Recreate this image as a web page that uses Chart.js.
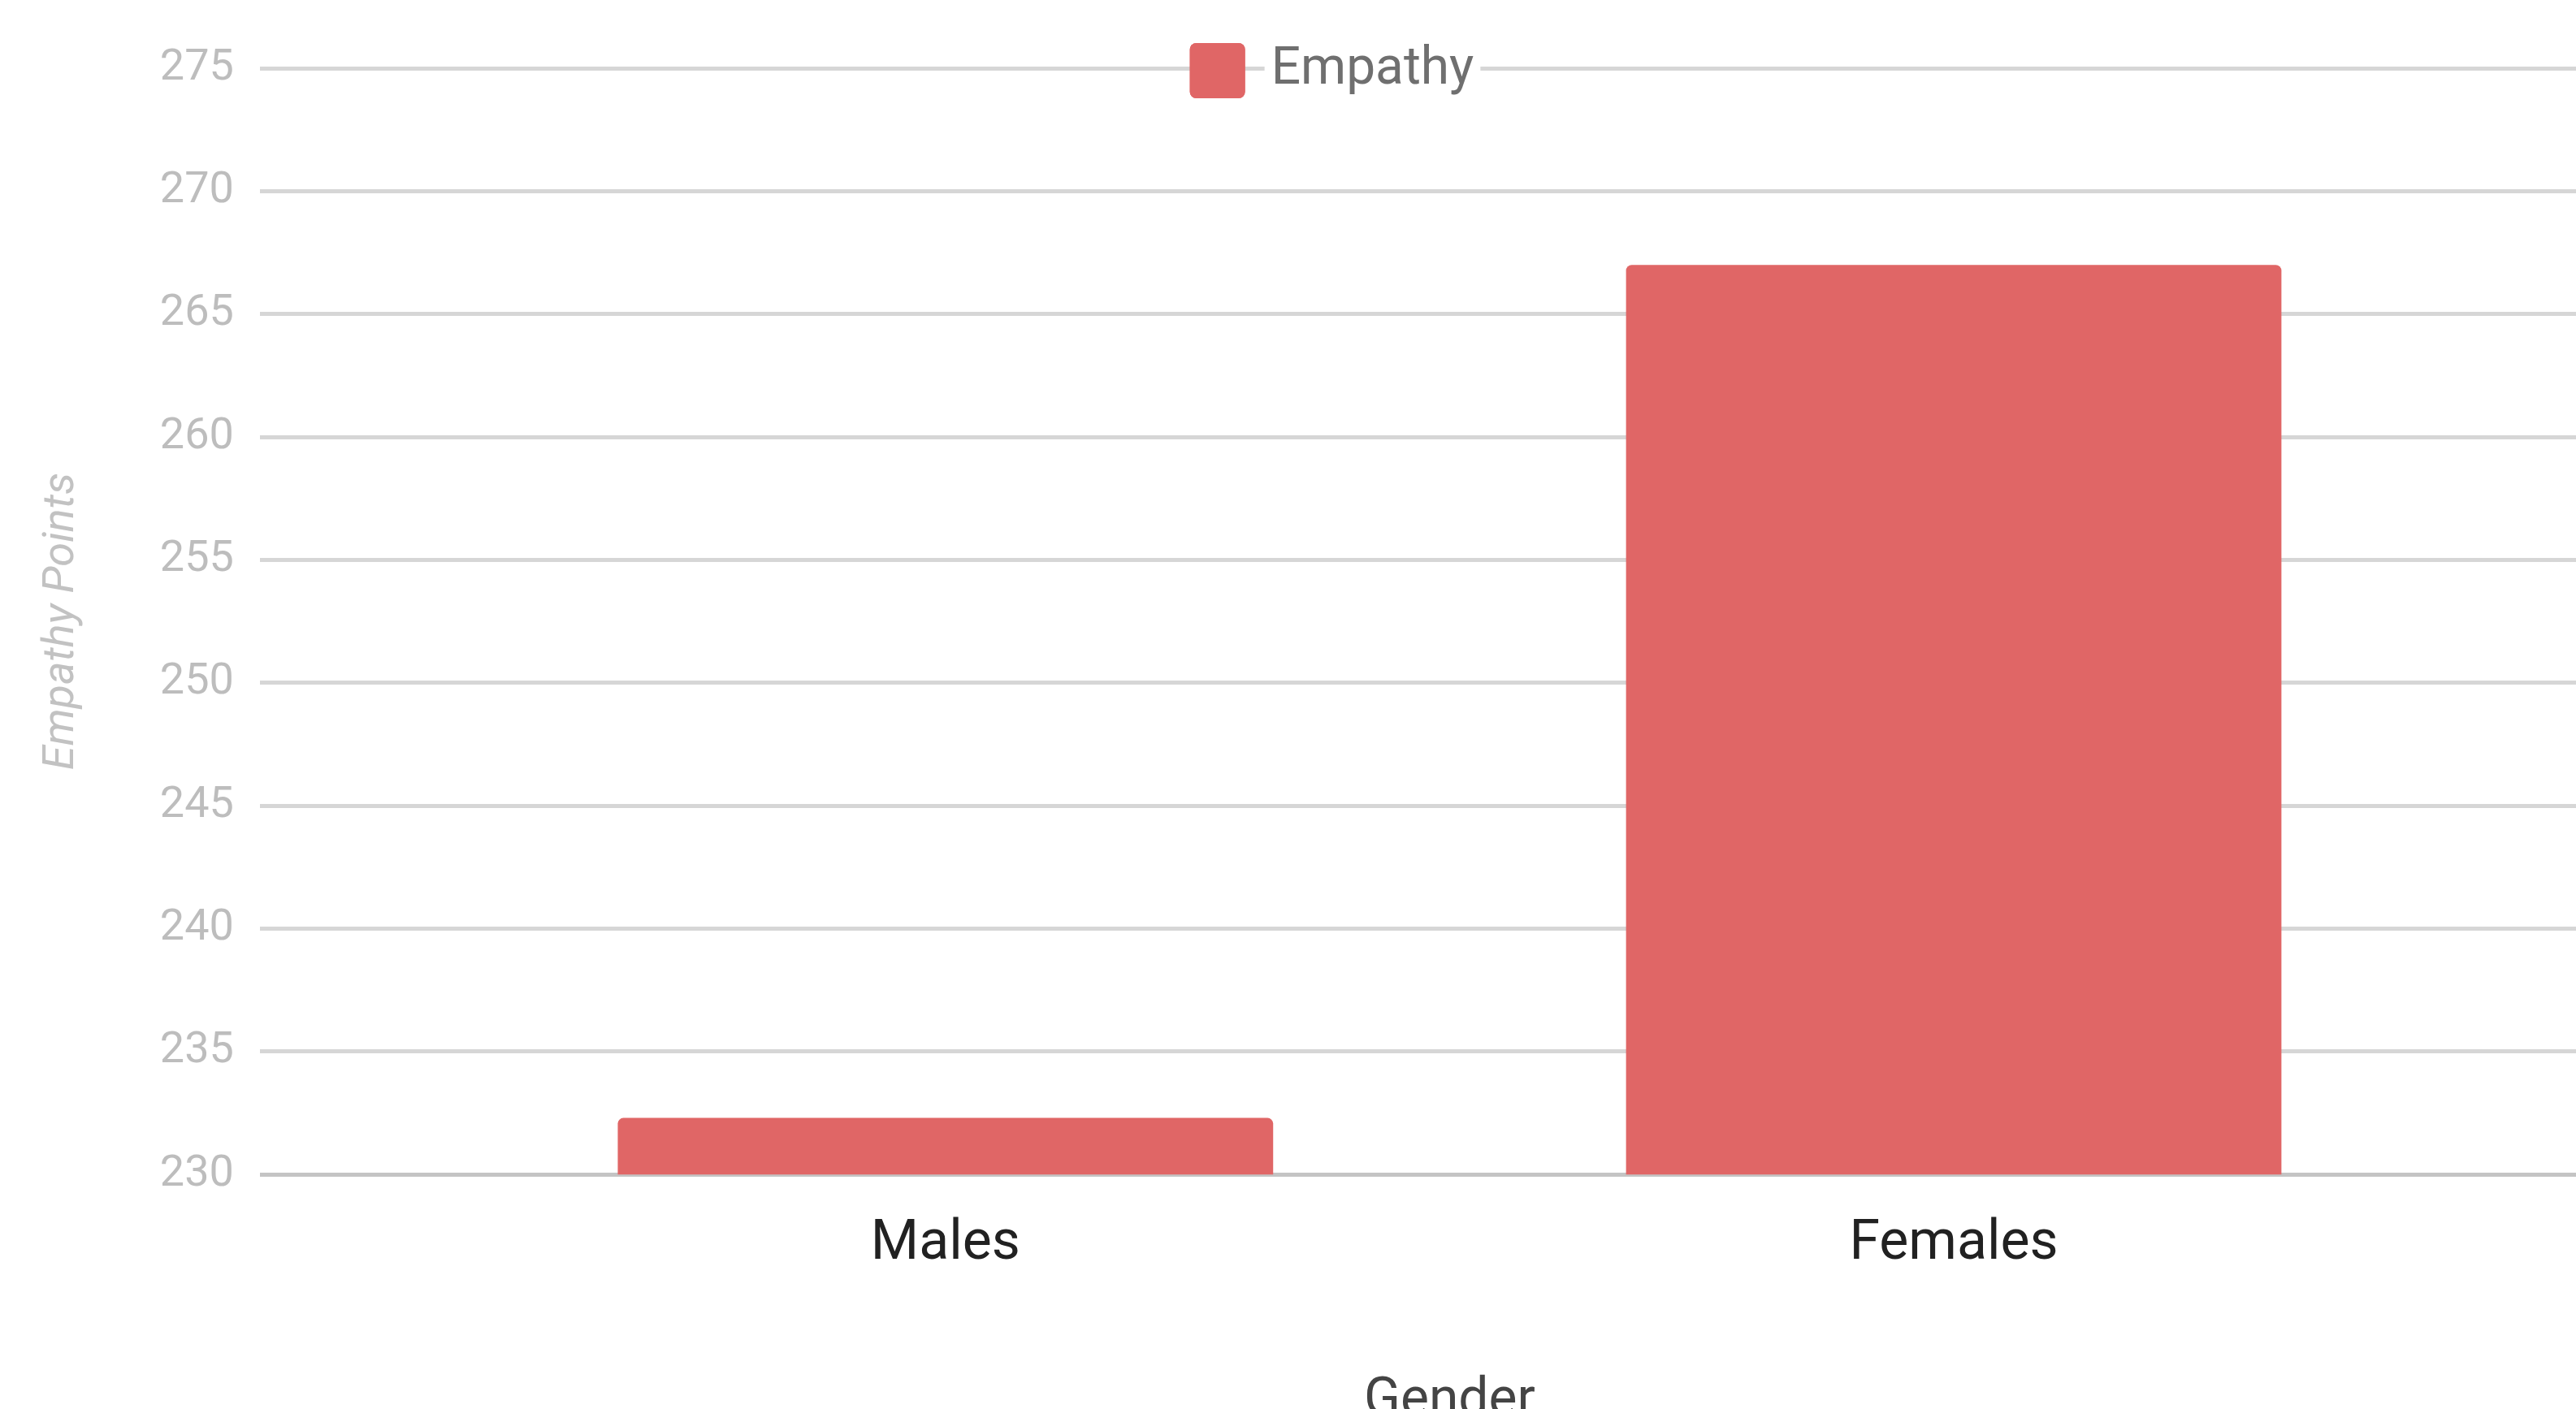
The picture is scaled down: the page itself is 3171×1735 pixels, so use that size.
<!DOCTYPE html>
<html>
<head>
<meta charset="utf-8">
<script src="https://cdn.jsdelivr.net/npm/chart.js@4"></script>
<style>
  html, body { margin: 0; padding: 0; background: #fff; overflow: hidden; }
  canvas { display: block; }
</style>
</head>
<body>
<canvas id="chart" width="3276" height="1735"></canvas>
<script>
const categories = ["Males", "Females"];
const empathy = [232.3, 267.0];
const seriesName = "Empathy";
const yTicks = { min: 230, max: 275, step: 5 };

const barColour = "#e06666";

// legend sits on top of the first gridline, like the original
const legendOnGrid = {
  id: "legendOnGrid",
  afterLayout(chart) {
    const lg = chart.legend;
    const dy = chart.chartArea.top + 3 - (lg.top + lg.bottom) / 2;
    lg.top += dy;
    lg.bottom += dy;
  },
  afterDraw(chart) {
    const lg = chart.legend;
    const o = lg.options.labels;
    const ctx = chart.ctx;
    const gap = o.boxWidth + o.font.size / 2;
    ctx.save();
    ctx.fillStyle = "#fff";
    lg.legendHitBoxes.forEach((hb) => {
      ctx.fillRect(hb.left + gap - 8, hb.top + 4, hb.width - gap + 16, hb.height - 8);
    });
    ctx.restore();
    lg.draw();
  },
};

new Chart(document.getElementById("chart").getContext("2d"), {
  type: "bar",
  data: {
    datasets: [{
      label: seriesName,
      data: categories.map((c, i) => ({ x: i, y: empathy[i] })),
      backgroundColor: barColour,
      borderRadius: 7,
      categoryPercentage: 1,
      barPercentage: 0.65,
    }],
  },
  options: {
    responsive: false,
    animation: false,
    devicePixelRatio: 1,
    layout: { padding: { left: 30, right: 27, top: -4, bottom: -31 } },
    plugins: {
      tooltip: { enabled: false },
      legend: {
        position: "top",
        labels: {
          boxWidth: 68,
          boxHeight: 68,
          useBorderRadius: true,
          borderRadius: 8,
          padding: 10,
          color: "#6f6f6f",
          font: { family: "Roboto", size: 64 },
        },
      },
    },
    scales: {
      x: {
        type: "linear",
        min: -0.68,
        max: 1.68,
        offset: false,
        grid: { display: false, drawTicks: false, offset: false },
        border: { display: false },
        afterBuildTicks: (scale) => {
          scale.ticks = categories.map((c, i) => ({ value: i }));
        },
        ticks: {
          autoSkip: false,
          maxRotation: 0,
          padding: 46,
          color: "#212121",
          font: { family: "Roboto", size: 68 },
          callback: (v) => categories[v],
        },
        title: {
          display: true,
          text: "Gender",
          color: "#444444",
          font: { family: "Roboto", size: 66 },
          padding: { top: 67, bottom: 0 },
        },
      },
      y: {
        min: yTicks.min,
        max: yTicks.max,
        ticks: {
          stepSize: yTicks.step,
          padding: 32,
          color: "#bdbdbd",
          font: { family: "Roboto", size: 54 },
        },
        grid: {
          drawTicks: false,
          lineWidth: 5,
          color: (c) => (c.tick && c.tick.value === yTicks.min ? "#c4c4c4" : "#d6d6d6"),
        },
        border: { display: false },
        title: {
          display: true,
          text: "Empathy Points",
          color: "#c2c2c2",
          font: { family: "Roboto", size: 54, style: "italic" },
          padding: { top: 14, bottom: 56 },
        },
      },
    },
  },
  plugins: [legendOnGrid],
});
</script>
</body>
</html>
